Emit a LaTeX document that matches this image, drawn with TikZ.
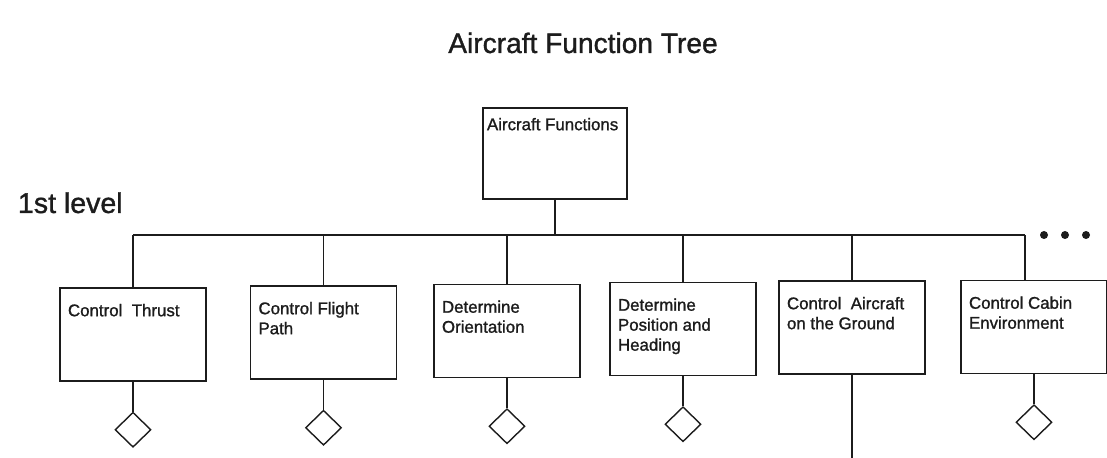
\documentclass[tikz,border=0pt]{standalone}
\usepackage{fontspec}
\setmainfont{Liberation Sans}[BoldFont=Liberation Sans, BoldFeatures={FakeBold=1.2}]
\usetikzlibrary{positioning, shapes.geometric}

\definecolor{InkColor}{RGB}{28,28,28}

\newcommand{\fnlabel}[1]{\parbox[c][1.525cm][t]{3.25cm}{\raggedright #1}}
\newcommand{\rootlabel}[1]{\parbox[c][1.775cm][t]{3.4cm}{\raggedright #1}}

\tikzset{
  fnbox/.style={draw=InkColor, line width=1.3pt, inner xsep=0.2cm, inner ysep=0.4cm, font=\fontsize{12}{14.2}\selectfont\bfseries},
  rootbox/.style={fnbox, inner xsep=0.1cm, inner ysep=0.25cm},
  leaf/.style={draw=InkColor, diamond, line width=1pt, minimum width=0.9cm, minimum height=0.875cm, inner sep=0pt},
  link/.style={draw=InkColor, line width=1.1pt},
  dot/.style={circle, fill=InkColor, minimum size=0.2cm, inner sep=0pt}
}

\begin{document}
\begin{tikzpicture}[x=0.025cm, y=-0.025cm, text=InkColor]
  \useasboundingbox[fill=white] (0,0) rectangle (1107,458);

  \node[anchor=base, font=\fontsize{20}{24}\selectfont\bfseries] (title) at (583,53) {Aircraft Function Tree};
  \node[anchor=base west, font=\fontsize{20.3}{24}\selectfont\bfseries] (level) at (13,213) {1st level};

  % root of the tree
  \node[rootbox] (root) at (555,153.5) {\rootlabel{Aircraft Functions}};
  \coordinate (bar) at (556,235);

  % first level functions
  \node[fnbox] (thrust) at (133,334.5) {\fnlabel{Control\ \ Thrust}};
  \node[fnbox] (path) at (323.5,332.5) {\fnlabel{Control Flight\\Path}};
  \node[fnbox] (orient) at (507,331) {\fnlabel{Determine\\Orientation}};
  \node[fnbox] (pos) at (683,329) {\fnlabel{Determine\\Position and\\Heading}};
  \node[fnbox] (ground) at (852,327.5) {\fnlabel{Control\ \ Aircraft\\on the Ground}};
  \node[fnbox] (cabin) at (1034,327) {\fnlabel{Control Cabin\\Environment}};

  \draw[link] (root.south) -- (root.south |- bar);
  \draw[link] (thrust.north |- bar) -- ([xshift=-0.225cm]cabin.north |- bar);
  \foreach \f in {thrust, path, orient, pos, ground}
    \draw[link] (\f.north) -- (\f.north |- bar);
  \draw[link] ([xshift=-0.225cm]cabin.north) -- ([xshift=-0.225cm]cabin.north |- bar);

  \foreach \i/\x in {1/1044, 2/1065, 3/1086}
    \node[dot] (dot\i) at (\x,235) {};

  % lower levels
  \foreach \f in {thrust, path, orient, pos, cabin} {
    \node[leaf, below=0.74cm of \f] (\f-leaf) {};
    \draw[link] (\f.south) -- (\f-leaf.north);
  }
  \coordinate (ground-end) at (852,458);
  \draw[link] (ground.south) -- (ground-end);
\end{tikzpicture}
\end{document}
